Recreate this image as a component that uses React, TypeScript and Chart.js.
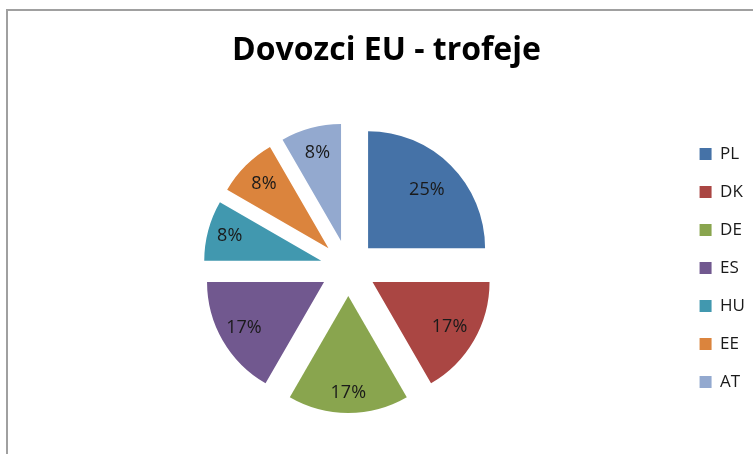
import React, { useEffect, useRef } from 'react';
import { Chart, registerables, ArcElement, PieController } from 'chart.js';

Chart.register(...registerables);

// ---- data ----
const TITLE = 'Dovozci EU - trofeje';
const countries = ['PL', 'DK', 'DE', 'ES', 'HU', 'EE', 'AT'];
const shares = [3, 2, 2, 2, 1, 1, 1];
const sliceColors = ['#4572A7', '#AA4643', '#89A54E', '#71588F', '#4198AF', '#DB843D', '#93A9CF'];

// ---- geometry / style ----
const PIE_RADIUS = 117;
const EXPLODE = 28;
const LABEL_FRACS = [0.71, 0.76, 0.83, 0.79, 0.81, 0.78, 0.78];
const FONT = '"Open Sans", "DejaVu Sans", sans-serif';

class ExplodedArc extends ArcElement {
  static id = 'explodedArc';
  draw(ctx: CanvasRenderingContext2D) {
    const self: any = this;
    const mid = (self.startAngle + self.endAngle) / 2;
    ctx.save();
    ctx.translate(Math.cos(mid) * EXPLODE, Math.sin(mid) * EXPLODE);
    super.draw(ctx);
    ctx.restore();
  }
}

class ExplodedPieController extends PieController {
  static id = 'explodedPie';
  static defaults = { dataElementType: 'explodedArc' };
}

Chart.register(ExplodedArc as any, ExplodedPieController as any);

const frameBorder = {
  id: 'frameBorder',
  beforeDraw(chart: any) {
    const ctx = chart.ctx;
    ctx.save();
    ctx.strokeStyle = '#a0a0a0';
    ctx.lineWidth = 2;
    ctx.strokeRect(7, 10, chart.width + 40, chart.height + 40);
    ctx.restore();
  },
};

const pctLabels = {
  id: 'pctLabels',
  afterDatasetsDraw(chart: any) {
    const meta = chart.getDatasetMeta(0);
    const data = chart.data.datasets[0].data as number[];
    const total = data.reduce((a, b) => a + b, 0);
    const ctx = chart.ctx;
    ctx.save();
    ctx.font = `18px ${FONT}`;
    ctx.fillStyle = '#1a1a1a';
    ctx.textAlign = 'center';
    ctx.textBaseline = 'middle';
    meta.data.forEach((arc: any, i: number) => {
      const mid = (arc.startAngle + arc.endAngle) / 2;
      const r = EXPLODE + LABEL_FRACS[i] * arc.outerRadius;
      ctx.fillText(
        Math.round((data[i] / total) * 100) + '%',
        arc.x + Math.cos(mid) * r,
        arc.y + Math.sin(mid) * r
      );
    });
    ctx.restore();
  },
};

export default function App() {
  const ref = useRef<HTMLCanvasElement>(null);
  useEffect(() => {
    if (!ref.current) return;
    const chart = new Chart(ref.current, {
      type: 'explodedPie' as any,
      data: {
        labels: countries,
        datasets: [
          {
            data: shares,
            backgroundColor: sliceColors,
            borderWidth: 0,
          },
        ],
      },
      options: {
        responsive: false,
        animation: false,
        radius: PIE_RADIUS,
        layout: { padding: { left: 18, right: 45, top: 0, bottom: 18 } },
        plugins: {
          title: {
            display: true,
            text: TITLE,
            color: '#000',
            font: { family: FONT, size: 32, weight: 'bold' },
            padding: { top: 32, bottom: 29.6 },
          },
          legend: {
            display: true,
            position: 'right',
            fullSize: false,
            labels: {
              boxWidth: 12,
              boxHeight: 12,
              padding: 21,
              color: '#1a1a1a',
              font: { family: FONT, size: 17 },
            },
          },
          tooltip: { enabled: false },
        },
      } as any,
      plugins: [frameBorder, pctLabels],
    });
    return () => chart.destroy();
  }, []);
  return (
    <div
      style={{
        position: 'fixed',
        left: 0,
        top: 0,
        width: 753,
        height: 454,
        overflow: 'hidden',
        background: '#fff',
      }}
    >
      <canvas ref={ref} width={800} height={454} style={{ display: 'block' }} />
    </div>
  );
}
